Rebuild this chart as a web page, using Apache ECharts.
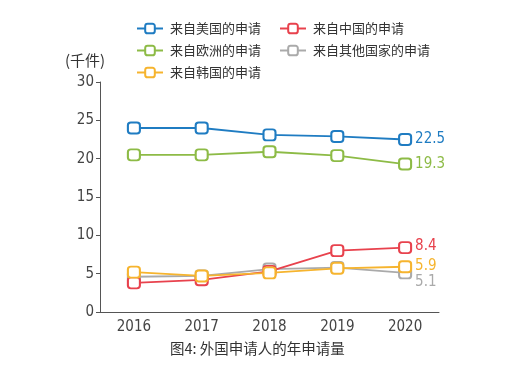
<!DOCTYPE html>
<html><head><meta charset="utf-8">
<script src="https://cdn.jsdelivr.net/npm/echarts@6/dist/echarts.min.js"></script>
<style>html,body{margin:0;padding:0;background:#fff}#c{width:510px;height:365px}</style>
</head><body><div id="c"></div>
<script>
var years = ['2016','2017','2018','2019','2020'];
var usa = [24.0, 24.0, 23.1, 22.9, 22.5];
var europe = [20.5, 20.5, 20.9, 20.4, 19.3];
var china = [3.8, 4.2, 5.3, 8.0, 8.4];
var korea = [5.2, 4.7, 5.1, 5.7, 5.9];
var others = [4.6, 4.7, 5.6, 5.8, 5.1];
var yTicks = [0, 5, 10, 15, 20, 25, 30];
var names = ['来自美国的申请','来自欧洲的申请','来自韩国的申请','来自中国的申请','来自其他国家的申请'];
var colors = ['#1f7cc2','#8dbb46','#f6b42e','#e8424d','#aaaaaa'];
var datas = [usa, europe, korea, china, others];
var font = '"DejaVu Sans Condensed","Liberation Sans Narrow",Arial,sans-serif';
var cjk = '"Noto Sans CJK SC","Noto Sans",sans-serif';
var offsets = [[0,0],[0,0],[0,-1],[0,-1],[0,9]];
var series = names.map(function(n,i){
  return {
    name:n, type:'line', data:datas[i],
    symbol:'roundRect', symbolSize:[12,11],
    itemStyle:{color:'#fff', borderColor:colors[i], borderWidth:2},
    lineStyle:{color:colors[i], width:1.8},
    z: 10 - i,
    endLabel:{show:true, formatter:function(p){return p.value.toFixed(1);}, color:colors[i],
      fontFamily:font, fontSize:15, distance:10, offset:offsets[i]}
  };
});
var chart = echarts.init(document.getElementById('c'));
chart.setOption({
  animation:false,
  color:colors,
  grid:{left:100, right:71, top:82, bottom:53},
  legend:[
    {data:names.slice(0,3), orient:'vertical', left:131, top:17, itemGap:9, itemWidth:26, itemHeight:12,
     textStyle:{fontFamily:cjk, fontSize:13, color:'#333', padding:[0,0,0,2]}},
    {data:names.slice(3), orient:'vertical', left:274, top:17, itemGap:9, itemWidth:26, itemHeight:12,
     textStyle:{fontFamily:cjk, fontSize:13, color:'#333', padding:[0,0,0,2]}}
  ],
  xAxis:{type:'category', data:years, boundaryGap:true,
    axisLine:{lineStyle:{color:'#555', width:1}},
    axisTick:{inside:true, length:5, lineStyle:{color:'#555'}},
    axisLabel:{fontFamily:font, fontSize:15, color:'#444', margin:8}},
  yAxis:{type:'value', min:0, max:30, interval:5,
    axisLine:{show:true, lineStyle:{color:'#555', width:1}},
    axisTick:{show:true, length:4, lineStyle:{color:'#555'}},
    splitLine:{show:false},
    axisLabel:{fontFamily:font, fontSize:15, color:'#444', margin:6,
      formatter:function(v){return yTicks.indexOf(v)>=0? String(v):'';}}},
  graphic:[
    {type:'text', left:65, top:53, style:{text:'(千件)', font:'15px '+cjk, fill:'#333'}},
    {type:'text', left:170, top:341, style:{text:'图4: 外国申请人的年申请量', font:'14.5px '+cjk, fill:'#333'}}
  ],
  series:series
});
</script></body></html>
